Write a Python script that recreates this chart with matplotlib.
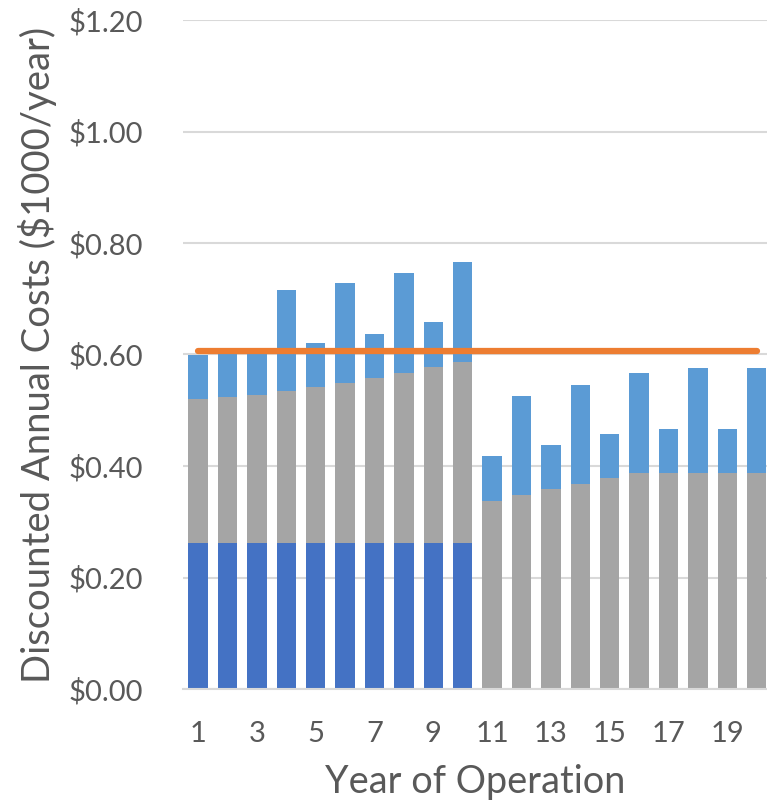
import numpy as np
import matplotlib.pyplot as plt

plt.rcParams['font.family'] = ['Lato', 'DejaVu Sans']

years = np.arange(1, 21)
# capital cost, only first 10 years
capital = [0.262] * 10 + [0.0] * 10
# O&M top of gray segment (cumulative)
gray_top = [0.520, 0.524, 0.527, 0.535, 0.542, 0.549, 0.558, 0.567, 0.578, 0.587,
            0.337, 0.348, 0.359, 0.368, 0.379, 0.387, 0.387, 0.387, 0.387, 0.387]
total_top = [0.600, 0.605, 0.606, 0.716, 0.621, 0.729, 0.637, 0.747, 0.658, 0.766,
             0.418, 0.525, 0.438, 0.545, 0.458, 0.566, 0.467, 0.576, 0.467, 0.576]
average = 0.607

capital = np.array(capital)
gray = np.array(gray_top) - capital
light = np.array(total_top) - np.array(gray_top)

fig = plt.figure(figsize=(7.67, 8.08), dpi=100)
ax = fig.add_axes([183.3 / 767, 1 - 689 / 808, 1 - 183.3 / 767, 669 / 808])

w = 0.66
ax.bar(years, capital, w, color='#4472C4', zorder=2)
ax.bar(years, gray, w, bottom=capital, color='#A5A5A5', zorder=2)
ax.bar(years, light, w, bottom=capital + gray, color='#5B9BD5', zorder=2)
ax.plot(years, [average] * len(years), color='#ED7D31', lw=4.5,
        solid_capstyle='round', zorder=3)

ax.set_xlim(0.5, 20.35)
ax.set_ylim(0, 1.2)
ax.set_yticks(np.arange(0, 1.21, 0.2))
ax.set_yticklabels(['${:.2f}'.format(v) for v in np.arange(0, 1.21, 0.2)])
ax.set_xticks(years[::2])
ax.set_xticklabels([str(y) for y in years[::2]])
ax.grid(axis='y', color='#D9D9D9', lw=1.5, zorder=0)
for s in ['top', 'right', 'left']:
    ax.spines[s].set_visible(False)
ax.spines['bottom'].set_color('#D9D9D9')
ax.spines['bottom'].set_linewidth(1.5)
ax.tick_params(length=0, labelsize=21, colors='#595959')
ax.tick_params(axis='x', pad=23)
ax.tick_params(axis='y', pad=29)
ax.set_xlabel('Year of Operation', fontsize=27.3, color='#595959', labelpad=12)
ax.set_ylabel('Discounted Annual Costs ($1000/year)', fontsize=27.5,
              color='#595959', labelpad=8)

fig.savefig('out.png', dpi=100)
